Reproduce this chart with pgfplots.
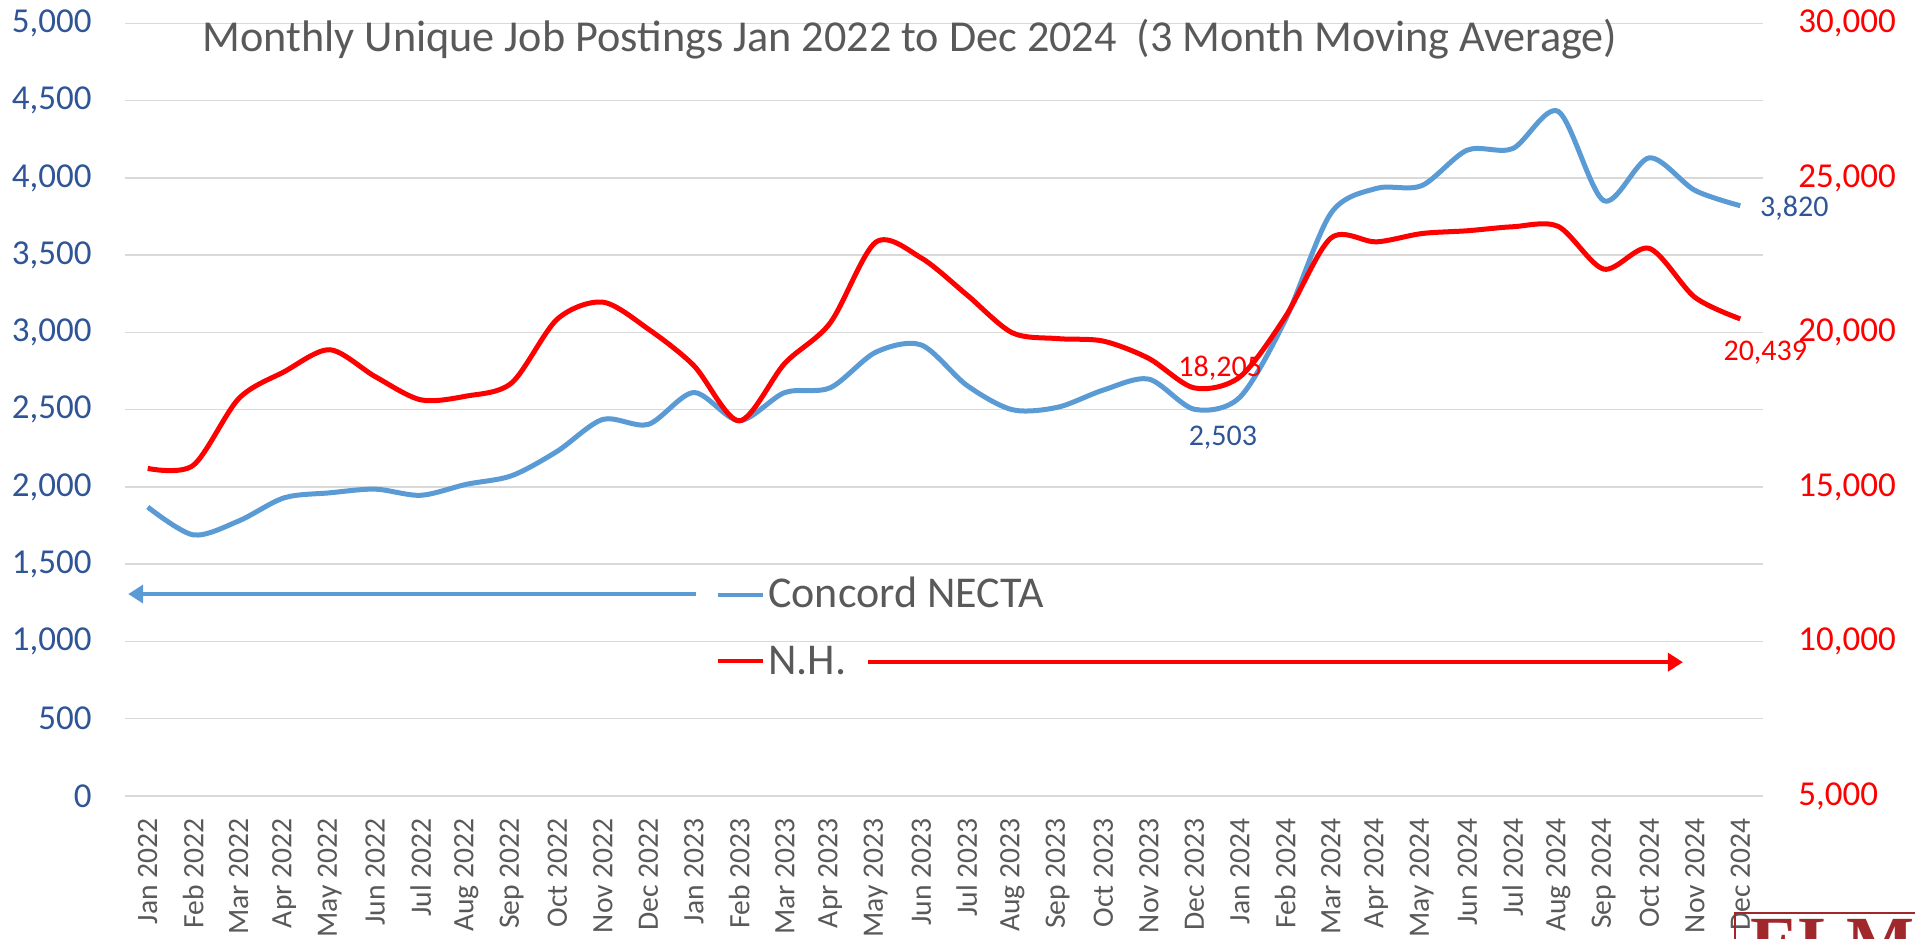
\documentclass[border=0pt]{standalone}
\usepackage{fontspec}
\setmainfont{Carlito}
\newfontfamily\logofont{Liberation Serif}
\usepackage{pgfplots}
\usepackage{pgfplotstable}
\pgfplotsset{compat=1.18}
\usetikzlibrary{arrows.meta}
\definecolor{cblue}{RGB}{91,155,213}
\definecolor{cred}{RGB}{255,0,0}
\definecolor{tblue}{RGB}{47,85,151}
\definecolor{tgray}{RGB}{89,89,89}
\definecolor{gridc}{RGB}{217,217,217}
\definecolor{logored}{RGB}{160,40,45}

\pgfplotstableread{
idx blue red
0 1870 15600
1 1690 15700
2 1780 17860
3 1930 18730
4 1962 19440
5 1986 18570
6 1946 17820
7 2017 17940
8 2073 18370
9 2231 20430
10 2437 20980
11 2405 20110
12 2611 18930
13 2429 17140
14 2611 19000
15 2642 20310
16 2872 22920
17 2919 22410
18 2658 21220
19 2500 19990
20 2516 19800
21 2627 19720
22 2698 19160
23 2503 18205
24 2580 18560
25 3080 20500
26 3770 23050
27 3932 22930
28 3950 23200
29 4180 23290
30 4190 23420
31 4430 23430
32 3853 22050
33 4130 22720
34 3920 21140
35 3820 20439
}\datatable

\pgfplotsset{
  common/.style={
    scale only axis, width=819pt, height=386.3pt,
    at={(0,0)}, anchor=south west,
    xmin=-0.5, xmax=35.5,
    major tick length=0pt,
    scaled y ticks=false,
    /pgf/number format/assume math mode=true,
    /pgf/number format/1000 sep={,},
    clip=false,
  }
}

\begin{document}
\begin{tikzpicture}
\begin{axis}[common,
  ymin=0, ymax=5000, ytick={0,500,...,5000},
  ymajorgrids, grid style={gridc, line width=0.75pt},
  axis line style={draw=none},
  xtick={0,...,35},
  xticklabels={Jan 2022,Feb 2022,Mar 2022,Apr 2022,May 2022,Jun 2022,Jul 2022,Aug 2022,Sep 2022,Oct 2022,Nov 2022,Dec 2022,
  Jan 2023,Feb 2023,Mar 2023,Apr 2023,May 2023,Jun 2023,Jul 2023,Aug 2023,Sep 2023,Oct 2023,Nov 2023,Dec 2023,
  Jan 2024,Feb 2024,Mar 2024,Apr 2024,May 2024,Jun 2024,Jul 2024,Aug 2024,Sep 2024,Oct 2024,Nov 2024,Dec 2024},
  xticklabel style={rotate=90, anchor=east, inner xsep=11pt, inner ysep=0pt, text=tgray, font=\fontsize{14.8}{14.8}\selectfont},
  yticklabel style={anchor=east, inner sep=0pt, xshift=-16.5pt, text=tblue, font=\fontsize{17.5}{17.5}\selectfont},
]
\addplot[cblue, line width=2.5pt, smooth] table[x=idx, y=blue] {\datatable};
% legend arrows and keys
\addplot[cblue, line width=2.2pt, -{Triangle[length=7.5pt,width=9pt]}] coordinates {(12.05,1307) (-0.43,1307)};
\addplot[cblue, line width=2.2pt] coordinates {(12.53,1300) (13.52,1300)};
\addplot[cred, line width=2.2pt] coordinates {(12.53,873) (13.52,873)};
\addplot[cred, line width=2.2pt, -{Triangle[length=7.5pt,width=9pt]}] coordinates {(15.83,866) (33.74,866)};
\node[anchor=base west, inner sep=0pt, text=tgray, font=\fontsize{22}{22}\selectfont] at (axis cs:13.63,1222) {Concord NECTA};
\node[anchor=base west, inner sep=0pt, text=tgray, font=\fontsize{22}{22}\selectfont] at (axis cs:13.63,789) {N.H.};
\node[text=tblue, font=\fontsize{15}{15}\selectfont] at (axis cs:23.63,2322) {2,503};
\node[anchor=west, inner sep=0pt, text=tblue, font=\fontsize{15}{15}\selectfont] at (axis cs:35.43,3803) {3,820};
\end{axis}
\begin{axis}[common,
  ymin=5000, ymax=30000, ytick={5000,10000,...,30000},
  axis y line*=right, axis x line=none,
  axis line style={draw=none},
  yticklabel style={anchor=west, inner sep=0pt, xshift=17.5pt, text=cred, font=\fontsize{17.5}{17.5}\selectfont},
]
\addplot[cred, line width=2.5pt, smooth] table[x=idx, y=red] {\datatable};
\node[text=cred, font=\fontsize{15}{15}\selectfont] at (axis cs:23.57,18840) {18,205};
\node[text=cred, font=\fontsize{15}{15}\selectfont] at (axis cs:35.55,19360) {20,439};
\end{axis}
\node[anchor=base, inner sep=0pt, text=tgray, font=\fontsize{22.1}{22.1}\selectfont] at (392.5pt,372pt) {Monthly Unique Job Postings Jan 2022 to Dec 2024\ \ (3 Month Moving Average)};
% logo (cut off at the edge, as in the reference)
\draw[logored, line width=0.6pt] (805pt,-58.5pt) rectangle (1000pt,-140pt);
\node[anchor=north west, inner sep=0pt, text=logored, font=\logofont\bfseries\fontsize{36}{36}\selectfont] at (812.5pt,-61.5pt) {ELMI};
\pgfresetboundingbox
\path[use as bounding box] (-62.5pt,-71pt) rectangle (895pt,398pt);
\end{tikzpicture}
\end{document}
